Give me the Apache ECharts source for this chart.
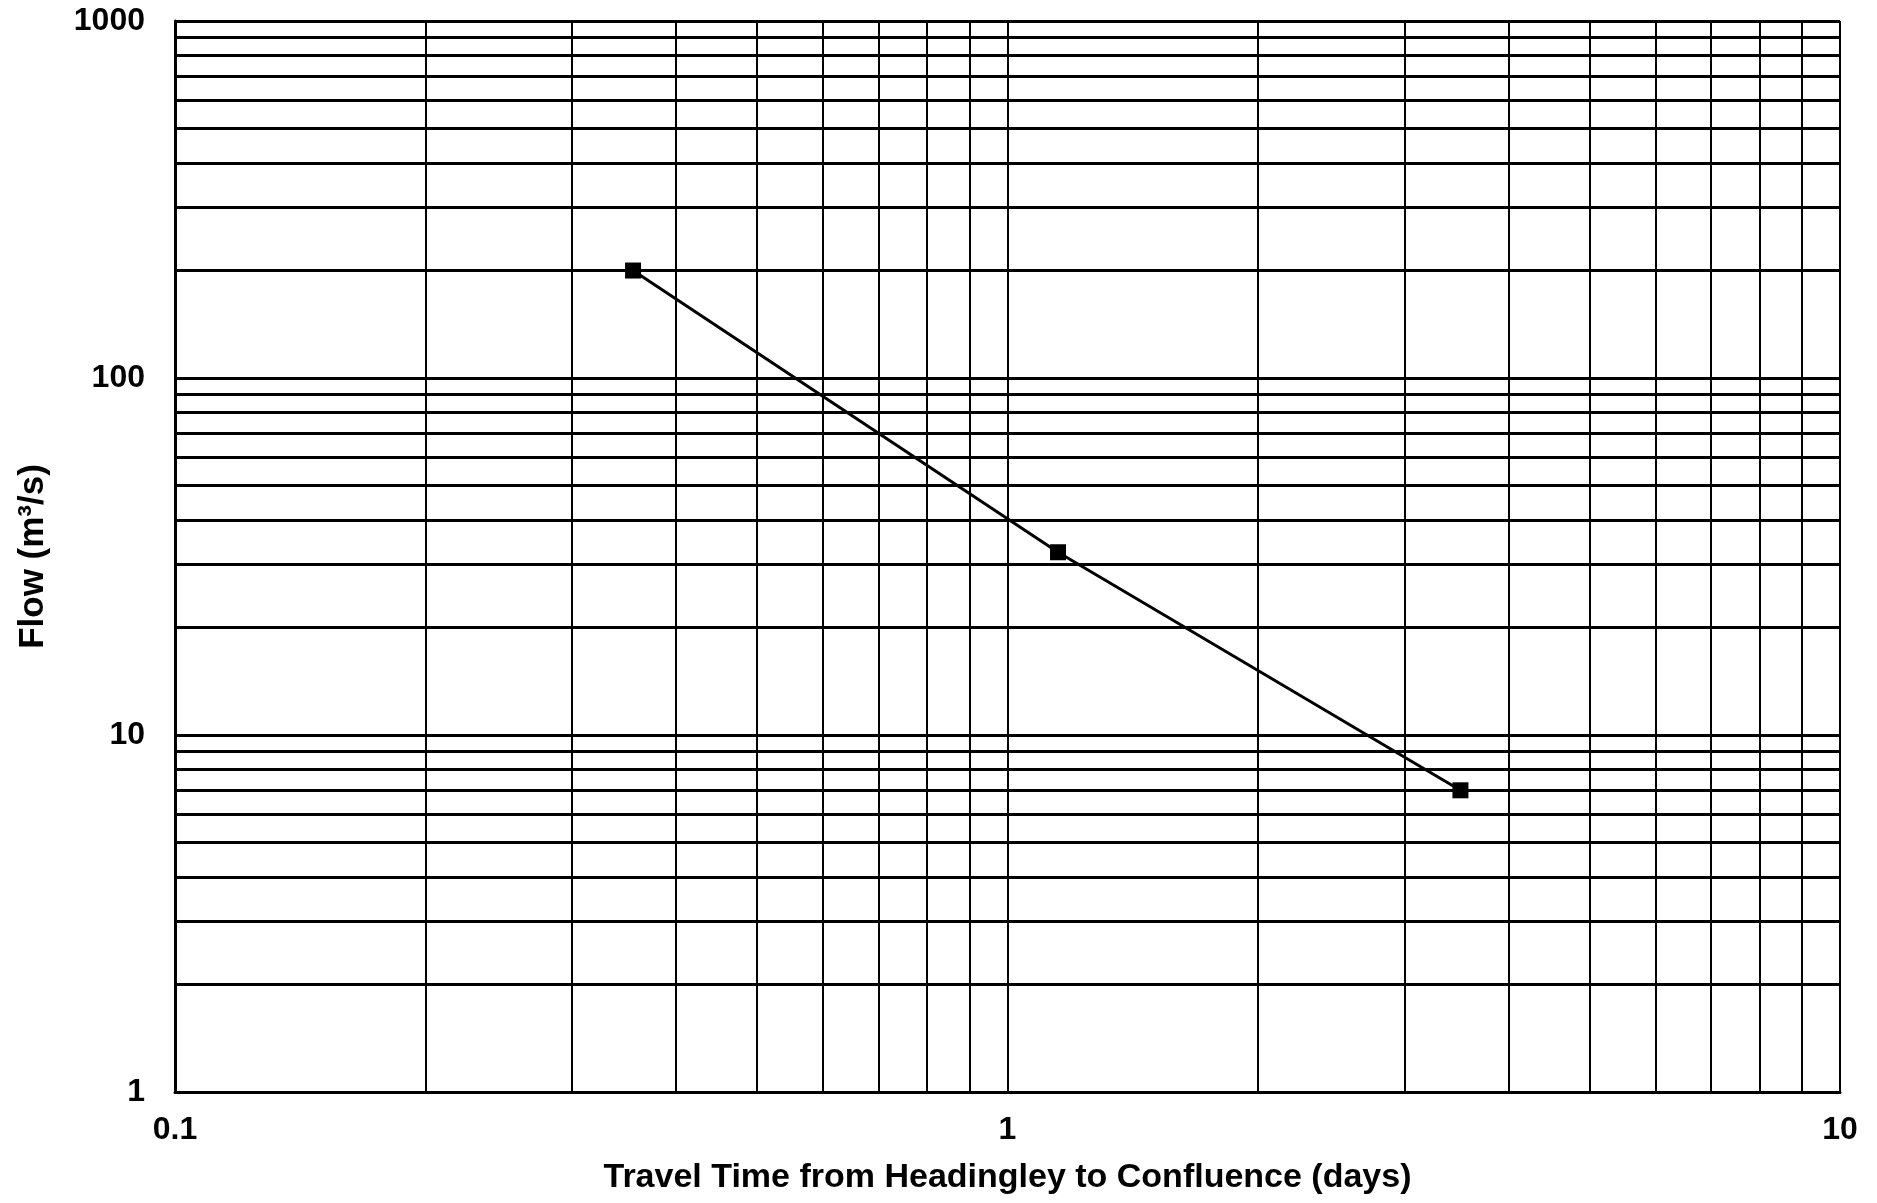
<!DOCTYPE html>
<html>
<head>
<meta charset="utf-8">
<script src="https://cdn.jsdelivr.net/npm/echarts@6/dist/echarts.min.js"></script>
<style>html,body{margin:0;padding:0;background:#fff;}#c{width:1877px;height:1203px;}</style>
</head>
<body>
<div id="c"></div>
<script>
// Data
const travelTimeDays = [0.355, 1.15, 3.5];
const flowM3s = [200, 32.5, 7];
// Log-paper grid lines
const xGridValues = [0.2,0.3,0.4,0.5,0.6,0.7,0.8,0.9,1,2,3,4,5,6,7,8,9,10];
const yGridValues = [2,3,4,5,6,7,8,9,10,20,30,40,50,60,70,80,90,100,200,300,400,500,600,700,800,900,1000];
const xAxisTitle = 'Travel Time from Headingley to Confluence (days)';
const yAxisTitle = 'Flow (m³/s)';

const FONT = '"Liberation Sans", Arial, sans-serif';
const chart = echarts.init(document.getElementById('c'));
const points = travelTimeDays.map((t, i) => [t, flowM3s[i]]);
const fmt = v => String(+v.toPrecision(6));

chart.setOption({
  backgroundColor: '#fff',
  animation: false,
  grid: { left: 175, right: 37, top: 21, bottom: 111, containLabel: false },
  xAxis: {
    type: 'log', logBase: 10, min: 0.1, max: 10,
    name: xAxisTitle, nameLocation: 'middle', nameGap: 69,
    nameTextStyle: { fontFamily: FONT, fontWeight: 'bold', fontSize: 34, color: '#000' },
    axisLine: { show: true, lineStyle: { color: '#000', width: 3 } },
    axisTick: { show: false },
    splitLine: { show: false },
    axisLabel: { fontFamily: FONT, fontWeight: 'bold', fontSize: 32, color: '#000', margin: 22, formatter: fmt }
  },
  yAxis: {
    type: 'log', logBase: 10, min: 1, max: 1000,
    name: yAxisTitle, nameLocation: 'middle', nameGap: 124,
    nameTextStyle: { fontFamily: FONT, fontWeight: 'bold', fontSize: 35, color: '#000' },
    axisLine: { show: true, lineStyle: { color: '#000', width: 3 } },
    axisTick: { show: false },
    splitLine: { show: false },
    axisLabel: { fontFamily: FONT, fontWeight: 'bold', fontSize: 32, color: '#000', margin: 30, formatter: fmt }
  },
  series: [
    {
      name: 'grid', type: 'line', data: [], silent: true, z: 1,
      markLine: {
        silent: true, symbol: 'none', animation: false, z: 1,
        label: { show: false },
        emphasis: { disabled: true },
        data: [
          ...yGridValues.map(v => ({ yAxis: v, lineStyle: { color: '#000', width: 3, type: 'solid' } })),
          ...xGridValues.map(v => ({ xAxis: v, lineStyle: { color: '#000', width: 2, type: 'solid' } }))
        ]
      }
    },
    {
      name: 'flow', type: 'line', data: points, z: 10,
      symbol: 'rect', symbolSize: 16,
      itemStyle: { color: '#000' },
      lineStyle: { color: '#000', width: 3 }
    }
  ]
});
</script>
</body>
</html>
